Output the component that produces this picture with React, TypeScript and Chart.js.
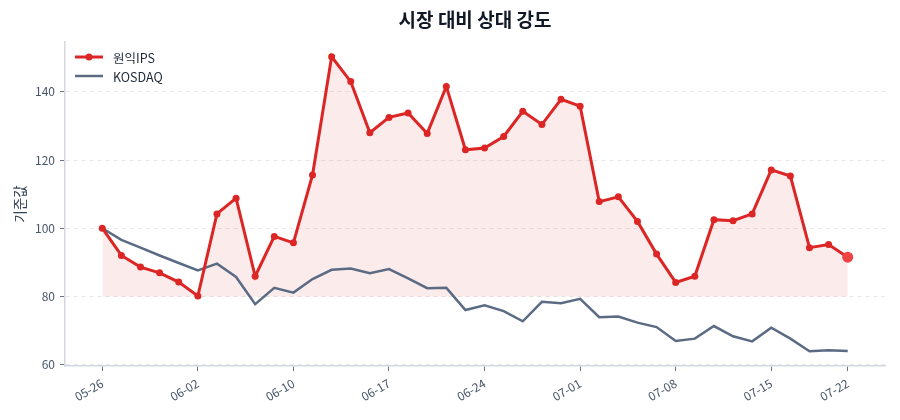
import { useEffect, useRef } from 'react';
import { Chart, registerables } from 'chart.js';

Chart.register(...registerables);

// trading days shown on the x axis (only every 5th + last gets a label)
const DATES = [
  '05-26', '05-27', '05-28', '05-29', '05-30',
  '06-02', '06-03', '06-04', '06-05', '06-09',
  '06-10', '06-11', '06-12', '06-13', '06-16',
  '06-17', '06-18', '06-19', '06-20', '06-23',
  '06-24', '06-25', '06-26', '06-27', '06-30',
  '07-01', '07-02', '07-03', '07-04', '07-07',
  '07-08', '07-09', '07-10', '07-11', '07-14',
  '07-15', '07-16', '07-17', '07-18', '07-22',
];

const WONIK_IPS = [
  100, 92.0, 88.6, 86.9, 84.2, 80.1, 104.2, 108.8, 85.9, 97.6,
  95.7, 115.6, 150.3, 143.0, 128.0, 132.5, 133.8, 127.8, 141.6, 123.0,
  123.5, 126.9, 134.3, 130.4, 137.8, 135.8, 107.8, 109.2, 102.0, 92.4,
  84.1, 85.9, 102.5, 102.2, 104.2, 117.1, 115.3, 94.3, 95.2, 91.5,
];

const KOSDAQ = [
  100, 96.6, 94.3, 92.0, 89.8, 87.6, 89.6, 85.7, 77.7, 82.5,
  81.1, 85.1, 87.8, 88.2, 86.8, 88.0, 85.3, 82.4, 82.5, 76.0,
  77.4, 75.7, 72.7, 78.4, 78.0, 79.3, 73.9, 74.1, 72.3, 71.0,
  66.9, 67.6, 71.3, 68.3, 66.8, 70.8, 67.6, 63.9, 64.2, 64.0,
];

const X_TICK_INDEX = [0, 5, 10, 15, 20, 25, 30, 35, 39];
const Y_TICKS = [60, 80, 100, 120, 140];
const FILL_BASE = 80;

const TITLE = '시장 대비 상대 강도';
const Y_LABEL = '기준값';
const SERIES_NAMES = ['원익IPS', 'KOSDAQ'];

const FONT = '"Noto Sans CJK KR", "Noto Sans", sans-serif';
const RED = '#dc2626';
const SLATE = '#5b6b84';

const overlay = {
  id: 'overlay',
  afterDraw(chart: Chart) {
    const { ctx, chartArea: a } = chart;
    ctx.save();

    // title, centred over the plot area
    ctx.fillStyle = '#111827';
    ctx.font = `bold 19px ${FONT}`;
    ctx.textAlign = 'center';
    ctx.textBaseline = 'middle';
    ctx.fillText(TITLE, (a.left + a.right) / 2, 20);

    // y axis title
    ctx.save();
    ctx.translate(20, (a.top + a.bottom) / 2);
    ctx.rotate(-Math.PI / 2);
    ctx.fillStyle = '#334155';
    ctx.font = `13.5px ${FONT}`;
    ctx.fillText(Y_LABEL, 0, 0);
    ctx.restore();

    // legend, upper left inside the plot
    const lx = a.left + 10;
    const rows = [a.top + 15, a.top + 34];
    ctx.lineCap = 'butt';
    ctx.textAlign = 'left';

    ctx.strokeStyle = RED;
    ctx.lineWidth = 3;
    ctx.beginPath();
    ctx.moveTo(lx, rows[0]);
    ctx.lineTo(lx + 28, rows[0]);
    ctx.stroke();
    ctx.beginPath();
    ctx.arc(lx + 14, rows[0], 3.5, 0, Math.PI * 2);
    ctx.fillStyle = RED;
    ctx.fill();

    ctx.strokeStyle = SLATE;
    ctx.lineWidth = 2.5;
    ctx.beginPath();
    ctx.moveTo(lx, rows[1]);
    ctx.lineTo(lx + 28, rows[1]);
    ctx.stroke();

    ctx.fillStyle = '#1f2937';
    ctx.font = `12.5px ${FONT}`;
    ctx.fillText(SERIES_NAMES[0], lx + 38, rows[0] + 1);
    ctx.fillText(SERIES_NAMES[1], lx + 38, rows[1] + 1);

    ctx.restore();
  },
};

export default function App() {
  const canvasRef = useRef<HTMLCanvasElement>(null);
  const chartRef = useRef<Chart | null>(null);

  useEffect(() => {
    if (!canvasRef.current) return;
    chartRef.current?.destroy();

    const all = [...WONIK_IPS, ...KOSDAQ];
    const lo = Math.min(...all);
    const hi = Math.max(...all);
    const yPad = (hi - lo) * 0.05;
    const xPad = (DATES.length - 1) * 0.05;
    const last = WONIK_IPS.length - 1;

    chartRef.current = new Chart(canvasRef.current, {
      type: 'line',
      data: {
        datasets: [
          {
            label: SERIES_NAMES[0],
            data: WONIK_IPS.map((y, x) => ({ x, y })),
            borderColor: RED,
            borderWidth: 3,
            backgroundColor: 'rgba(220, 38, 38, 0.09)',
            fill: { value: FILL_BASE },
            pointRadius: WONIK_IPS.map((_, i) => (i === last ? 5.5 : 3.5)),
            pointBackgroundColor: WONIK_IPS.map((_, i) => (i === last ? '#ef4444' : RED)),
            pointBorderWidth: 0,
            tension: 0,
          },
          {
            label: SERIES_NAMES[1],
            data: KOSDAQ.map((y, x) => ({ x, y })),
            borderColor: SLATE,
            borderWidth: 2.5,
            pointRadius: 0,
            fill: false,
            tension: 0,
          },
        ],
      },
      options: {
        animation: false,
        responsive: true,
        maintainAspectRatio: false,
        layout: { padding: { top: 42, right: 15, left: 0, bottom: 0 } },
        plugins: {
          legend: { display: false },
          title: { display: false },
          tooltip: { enabled: false },
          filler: { drawTime: 'beforeDatasetsDraw' },
        },
        scales: {
          x: {
            type: 'linear',
            min: -xPad,
            max: last + xPad,
            afterBuildTicks: axis => { axis.ticks = X_TICK_INDEX.map(value => ({ value })); },
            afterFit: axis => { axis.height = 54; },
            ticks: {
              autoSkip: false,
              minRotation: 30,
              maxRotation: 30,
              padding: 5,
              color: '#475569',
              font: { size: 12, family: FONT },
              callback: v => DATES[Number(v)] ?? '',
            },
            grid: {
              drawOnChartArea: false,
              drawTicks: true,
              tickLength: 5,
              tickColor: '#64748b',
            },
            border: { color: '#d4d8e0', width: 1.5 },
          },
          y: {
            min: lo - yPad,
            max: hi + yPad,
            afterBuildTicks: axis => { axis.ticks = Y_TICKS.map(value => ({ value })); },
            afterFit: axis => { axis.width = 65; },
            ticks: {
              padding: 5,
              color: '#475569',
              font: { size: 12, family: FONT },
            },
            grid: {
              color: '#e5e7eb',
              lineWidth: 1,
              drawTicks: true,
              tickLength: 5,
              tickColor: '#64748b',
              tickBorderDash: [],
            },
            border: { color: '#d4d8e0', width: 1.5, dash: [4, 4] },
          },
        },
      },
      plugins: [overlay],
    });

    return () => { chartRef.current?.destroy(); chartRef.current = null; };
  }, []);

  return (
    <div style={{ position: 'fixed', left: 0, top: 0, width: 900, height: 420, background: '#fff' }}>
      <canvas ref={canvasRef} role="img" aria-label="시장 대비 상대 강도 line chart" />
    </div>
  );
}
